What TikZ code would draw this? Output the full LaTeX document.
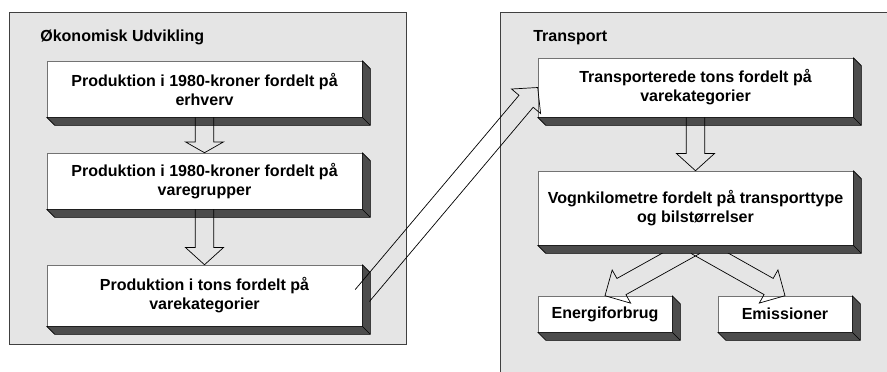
\documentclass[tikz,border=0pt]{standalone}
\usepackage{fontspec}
\setmainfont{Liberation Sans}
\usetikzlibrary{calc}

% extruded bottom and right face of a box
\newcommand{\boxdepth}[1]{%
  \filldraw[depthface] (#1.north east) -- ++(8,8) -- ($(#1.south east)+(8,8)$)
    -- ($(#1.south west)+(8,8)$) -- (#1.south west) -- (#1.south east) -- cycle;
  \draw[depthface] (#1.south east) -- ++(8,8);
}
% hollow block arrow: from, to, head length
\newcommand{\fatarrow}[3]{%
  \coordinate (hb) at ($(#2)!#3!(#1)$);
  \draw[fatline] ($(#1)!0.232cm!90:(#2)$) -- ($(hb)!0.232cm!90:(#2)$)
    -- ($(hb)!0.475cm!90:(#2)$) -- (#2) -- ($(hb)!0.475cm!-90:(#2)$)
    -- ($(hb)!0.232cm!-90:(#2)$) -- ($(#1)!0.232cm!-90:(#2)$);
}

\begin{document}
\begin{tikzpicture}[x=0.025cm,y=-0.025cm,
    font=\fontsize{11.4}{13.5}\selectfont\bfseries,
    panel/.style={draw=black!75,fill=gray!20,line width=0.6pt},
    paneltitle/.style={anchor=base west,inner sep=0pt},
    stepbox/.style={draw=black!55,fill=white,line width=0.4pt,inner sep=0pt,align=center},
    depthface/.style={fill=black!70,draw=black,line width=0.4pt,line join=round},
    fatline/.style={draw=black,line width=0.5pt,line join=miter}]
    \useasboundingbox (0,0) rectangle (887,371);
    \clip (0,0) rectangle (887,371);

    % Panels
    \draw[panel] (9,12) rectangle (406,344);
    \draw[panel] (500,12) rectangle (895,385);
    \node[paneltitle] (okotitle) at (40,41) {Økonomisk Udvikling};
    \node[paneltitle] (transtitle) at (533,41) {Transport};

    % Economic chain
    \node[stepbox,minimum width=7.875cm,minimum height=1.4cm] (prod1) at (204.5,89)
        {Produktion i 1980-kroner fordelt på\\erhverv};
    \boxdepth{prod1}
    \node[stepbox,minimum width=7.875cm,minimum height=1.4cm] (prod2) at (204.5,181)
        {Produktion i 1980-kroner fordelt på\\varegrupper};
    \boxdepth{prod2}
    \node[stepbox,minimum width=7.875cm,minimum height=1.525cm] (prod3) at (204.5,295.5)
        {Produktion i tons fordelt på\\varekategorier};
    \boxdepth{prod3}

    % Transport chain
    \node[stepbox,minimum width=7.875cm,minimum height=1.475cm] (tons) at (695.5,87.5)
        {Transporterede tons fordelt på\\varekategorier};
    \boxdepth{tons}
    \node[stepbox,minimum width=3.35cm,minimum height=0.9cm] (energi) at (605,314) {Energiforbrug};
    \boxdepth{energi}
    \node[stepbox,minimum width=3.35cm,minimum height=0.9cm] (emis) at (785,314) {Emissioner};
    \boxdepth{emis}
    \node[stepbox,minimum width=7.875cm,minimum height=1.85cm] (vogn) at (695.5,208)
        {Vognkilometre fordelt på transporttype\\og bilstørrelser};
    \boxdepth{vogn}

    % Crossing arrows, tails hidden under the box
    \begin{scope}
        \clip ($(vogn.south west)+(0,8)$) rectangle ($(emis.south east)+(10,10)$);
        \fatarrow{vogn.south}{energi.north}{0.47cm}
        \fatarrow{vogn.south}{emis.north}{0.47cm}
    \end{scope}

    % Block arrows
    \fatarrow{prod1.south}{prod2.north}{0.27cm}
    \fatarrow{prod2.south}{prod3.north}{0.43cm}
    \fatarrow{tons.south}{vogn.north}{0.43cm}
    \fatarrow{prod3.east}{tons.west}{0.45cm}
\end{tikzpicture}
\end{document}
